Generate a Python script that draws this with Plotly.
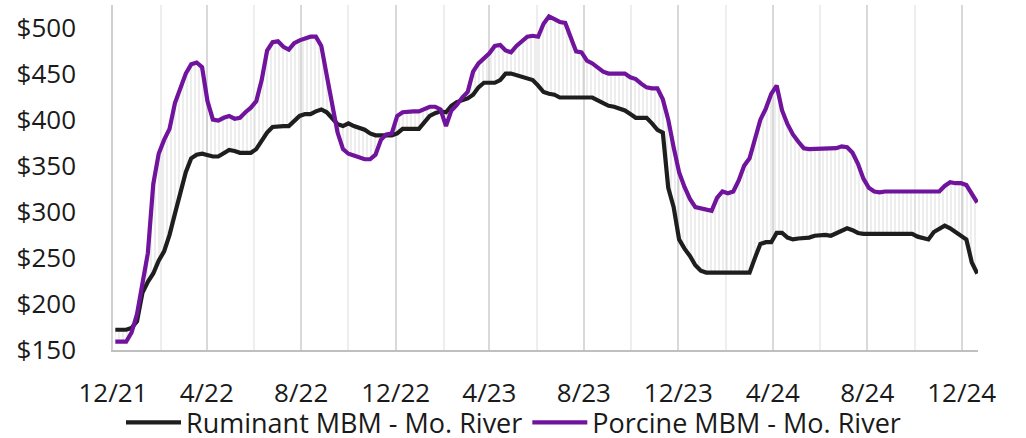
import pandas as pd
import plotly.graph_objects as go

# Weekly prices ($/ton)
start_date = "2021-12-04"
n_weeks = 160

ruminant = [
    172, 172, 172, 174, 181, 212, 224, 233, 247, 257,
    275, 298, 320, 343, 358, 362, 363, 361, 360, 360,
    363, 367, 366, 364, 364, 364, 368, 378, 386, 392,
    393, 393, 393, 399, 404, 406, 406, 409, 411, 408,
    402, 395, 393, 396, 393, 391, 389, 385, 383, 383,
    383, 383, 385, 390, 390, 390, 390, 397, 404, 407,
    409, 408, 415, 419, 421, 423, 427, 435, 440, 440,
    440, 443, 450, 450, 448, 446, 444, 443, 437, 430,
    428, 427, 424, 424, 424, 424, 424, 424, 424, 421,
    418, 415, 414, 412, 410, 406, 402, 402, 402, 396,
    389, 386, 326, 305, 270, 260, 252, 242, 236, 234,
    234, 234, 234, 234, 234, 234, 234, 234, 250, 265,
    267, 267, 277, 277, 272, 270, 271, 271, 272, 274,
    275, 275, 274, 277, 280, 282, 280, 277, 276, 276,
    276, 276, 276, 276, 276, 276, 276, 276, 273, 271,
    270, 278, 282, 285, 282, 278, 274, 270, 245, 233,
]

porcine = [
    159, 159, 159, 169, 189, 222, 255, 330, 363, 378,
    390, 418, 434, 450, 460, 462, 457, 420, 400, 399,
    402, 404, 401, 402, 408, 413, 420, 443, 475, 484,
    485, 479, 476, 483, 486, 488, 490, 490, 480, 448,
    415, 386, 368, 363, 361, 359, 357, 357, 362, 378,
    384, 385, 404, 408, 409, 409, 409, 412, 414, 414,
    411, 393, 410, 416, 424, 430, 452, 461, 466, 472,
    480, 481, 475, 473, 480, 485, 490, 491, 490, 504,
    512, 509, 506, 505, 490, 474, 473, 464, 461, 457,
    452, 450, 450, 450, 450, 446, 444, 439, 435, 434,
    434, 422, 400, 370, 343, 327, 314, 305, 304, 302,
    301, 315, 322, 320, 322, 334, 350, 358, 380, 400,
    412, 428, 437, 410, 395, 384, 376, 369, 368, 368,
    368, 368, 368, 369, 371, 370, 364, 352, 336, 326,
    322, 321, 322, 322, 322, 322, 322, 322, 322, 322,
    322, 322, 322, 328, 332, 331, 331, 329, 320, 310,
]

series_names = ["Ruminant MBM - Mo. River", "Porcine MBM - Mo. River"]
series_colors = ["#1e1e1e", "#70139d"]
y_tick_vals = [150, 200, 250, 300, 350, 400, 450, 500]
y_tick_text = ["$150", "$200", "$250", "$300", "$350", "$400", "$450", "$500"]

dates = pd.date_range(start_date, periods=n_weeks, freq="7D")

fig = go.Figure()

# hatched spread between the two series
fig.add_trace(go.Scatter(x=dates, y=ruminant, mode="lines",
                         line=dict(width=0, color="rgba(0,0,0,0)"),
                         showlegend=False, hoverinfo="skip"))
fig.add_trace(go.Scatter(x=dates, y=porcine, mode="lines",
                         line=dict(width=0, color="rgba(0,0,0,0)"),
                         fill="tonexty", fillcolor="rgba(0,0,0,0)",
                         fillpattern=dict(shape="|", size=4, solidity=0.3,
                                          fgcolor="#c4c4c4", bgcolor="rgba(0,0,0,0)"),
                         showlegend=False, hoverinfo="skip"))

for name, vals, col in zip(series_names, [ruminant, porcine], series_colors):
    fig.add_trace(go.Scatter(x=dates, y=vals, mode="lines", name=name,
                             line=dict(color=col, width=4.2)))

font = dict(family="Open Sans", size=26, color="#1a1a1a")
legend_font = dict(family="Open Sans", size=27, color="#1a1a1a")

fig.update_layout(
    width=1026, height=438,
    margin=dict(l=113, r=48, t=5, b=88, autoexpand=False),
    paper_bgcolor="white", plot_bgcolor="white",
    font=font,
    showlegend=True,
    legend=dict(orientation="h", traceorder="normal",
                x=0.463, xanchor="center", y=-0.14, yanchor="top",
                font=legend_font, itemwidth=55, tracegroupgap=0,
                borderwidth=0, bgcolor="rgba(0,0,0,0)"),
)

fig.update_xaxes(
    type="date",
    range=["2021-12-01", "2024-12-22"],
    tick0="2021-12-01", dtick="M4", tickformat="%-m/%y",
    showgrid=True, gridcolor="#d9d9d9", gridwidth=1.5,
    minor=dict(tick0="2021-12-01", dtick="M2", showgrid=True,
               gridcolor="#eeeeee", gridwidth=1.5),
    showline=True, linecolor="#bfbfbf", linewidth=1.5,
    ticks="", ticklabelstandoff=19,
    tickfont=font,
)
fig.update_yaxes(
    range=[150, 524.4],
    tickvals=y_tick_vals, ticktext=y_tick_text,
    showgrid=False, zeroline=False,
    showline=True, linecolor="#d0d0d0", linewidth=1.5,
    ticks="", ticklabelstandoff=30,
    tickfont=font,
)

fig.write_html("out.html",
               config={"displayModeBar": False},
               post_script="document.body.style.margin='0px';document.body.style.overflow='hidden';")
